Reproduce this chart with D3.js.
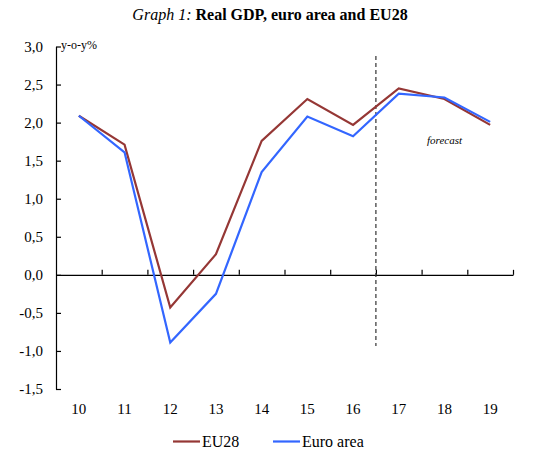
<!DOCTYPE html>
<html lang="en">

<head>
    <meta charset="UTF-8">
    <title>Graph 1: Real GDP, euro area and EU28</title>
    <script src="https://d3js.org/d3.v7.min.js"></script>
    <style>
        body { margin: 0; background: #fff; }
        text { font-family: "Liberation Serif", "Times New Roman", serif; fill: #000; }
    </style>
</head>

<body>
    <script>
        // Data (annual growth, y-o-y %)
        const years = ["10", "11", "12", "13", "14", "15", "16", "17", "18", "19"];
        const eu28 = [2.09, 1.71, -0.43, 0.27, 1.76, 2.31, 1.97, 2.45, 2.31, 1.97];
        const euroArea = [2.09, 1.61, -0.89, -0.25, 1.35, 2.08, 1.82, 2.38, 2.33, 2.01];
        const yTicks = [-1.5, -1.0, -0.5, 0.0, 0.5, 1.0, 1.5, 2.0, 2.5, 3.0];
        const forecastFrom = 7; // index of first forecast year

        const width = 537, height = 458;
        const plotLeft = 56, plotRight = 513, plotTop = 46.5, plotBottom = 389;

        const svg = d3.select("body").append("svg")
            .attr("width", width)
            .attr("height", height);

        // Title
        const title = svg.append("text")
            .attr("x", 270).attr("y", 19.5)
            .attr("text-anchor", "middle")
            .style("font-size", "16px");
        title.append("tspan").style("font-style", "italic").text("Graph 1: ");
        title.append("tspan").style("font-weight", "bold").text("Real GDP, euro area and EU28");

        // Scales
        const x = d3.scaleBand().domain(years).range([plotLeft, plotRight]).padding(0);
        const xEdge = d3.scaleLinear().domain([0, years.length]).range([plotLeft, plotRight]);
        const y = d3.scaleLinear().domain([-1.5, 3.0]).range([plotBottom, plotTop]);
        const fmt = v => d3.format(".1f")(v).replace(".", ",").replace("−", "-");

        // Y axis (ticks inside, labels left)
        const yAxis = svg.append("g")
            .attr("transform", `translate(${plotLeft},0)`)
            .call(d3.axisLeft(y).tickValues(yTicks).tickFormat(fmt)
                .tickSizeInner(-5).tickSizeOuter(0).tickPadding(13));
        yAxis.selectAll("path, line").attr("stroke", "#000").attr("stroke-width", 1.2);
        yAxis.selectAll("text").style("font-size", "15px")
            .style("font-family", "'Liberation Serif', 'Times New Roman', serif");

        svg.append("text")
            .attr("x", 61).attr("y", 49)
            .style("font-size", "12px")
            .text("y-o-y%");

        // X axis along zero, ticks between categories pointing up
        const xAxis = svg.append("g")
            .attr("transform", `translate(0,${y(0)})`)
            .call(d3.axisTop(xEdge).tickValues(d3.range(1, years.length + 1))
                .tickFormat("").tickSizeInner(5).tickSizeOuter(0));
        xAxis.selectAll("path, line").attr("stroke", "#000").attr("stroke-width", 1.2);

        // Category labels under the plot
        const xLabels = svg.append("g")
            .attr("transform", `translate(0,${plotBottom})`)
            .call(d3.axisBottom(x).tickSize(0).tickPadding(14));
        xLabels.select(".domain").remove();
        xLabels.selectAll("text").style("font-size", "15px")
            .style("font-family", "'Liberation Serif', 'Times New Roman', serif");

        // Forecast divider
        svg.append("line")
            .attr("x1", xEdge(forecastFrom)).attr("x2", xEdge(forecastFrom))
            .attr("y1", 56).attr("y2", 346)
            .attr("stroke", "#333").attr("stroke-width", 1.2)
            .attr("stroke-dasharray", "4,3");

        svg.append("text")
            .attr("x", 427).attr("y", 144)
            .style("font-size", "11px").style("font-style", "italic")
            .text("forecast");

        // Lines
        const line = d3.line()
            .x((d, i) => x(years[i]) + x.bandwidth() / 2)
            .y(d => y(d));

        const series = [
            { name: "EU28", values: eu28, color: "#953735" },
            { name: "Euro area", values: euroArea, color: "#3366ff" }
        ];

        svg.selectAll(".series")
            .data(series)
            .enter()
            .append("path")
            .attr("class", "series")
            .attr("fill", "none")
            .attr("stroke", d => d.color)
            .attr("stroke-width", 2.2)
            .attr("stroke-linejoin", "miter")
            .attr("d", d => line(d.values));

        // Legend
        const legendX = [173, 273];
        const legend = svg.selectAll(".legend")
            .data(series)
            .enter()
            .append("g")
            .attr("class", "legend")
            .attr("transform", (d, i) => `translate(${legendX[i]},441.5)`);
        legend.append("line")
            .attr("x1", 0).attr("x2", 27)
            .attr("stroke", d => d.color)
            .attr("stroke-width", 2.2);
        legend.append("text")
            .attr("x", 29).attr("y", 5.8)
            .style("font-size", "16px")
            .text(d => d.name);
    </script>
</body>

</html>
